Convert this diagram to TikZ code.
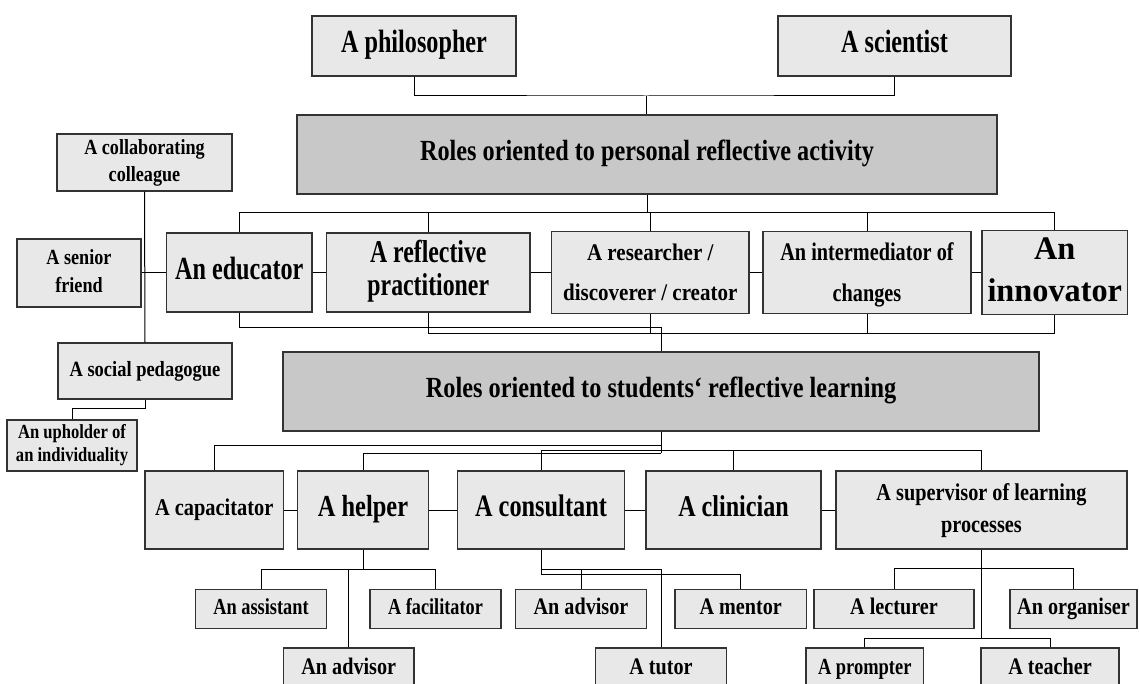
\documentclass[tikz,border=0pt]{standalone}
\usepackage{fontspec}
\setmainfont{Liberation Serif}
\usepackage{graphicx}
\definecolor{lightbox}{HTML}{E8E8E8}
\definecolor{darkbox}{HTML}{C8C8C8}
\definecolor{edgecol}{HTML}{333333}
\newcommand\lbl[4]{\scalebox{#2}[1]{\fontsize{#1}{#3}\selectfont\bfseries\begin{tabular}{@{}c@{}}#4\end{tabular}}}
\newcommand\bx[7]{\node[#2, minimum width={(#5-#3)*0.75pt}, minimum height={(#6-#4)*0.75pt}] (#1) at ({(#3+#5)/2},{(#4+#6)/2}) {#7};}
\begin{document}
\begin{tikzpicture}[x=0.75pt,y=-0.75pt,
  box/.style={draw=edgecol, line width=0.9pt, fill=lightbox, inner sep=0pt, anchor=center},
  dbox/.style={box, fill=darkbox},
  conn/.style={draw=black, line width=0.75pt}]
\useasboundingbox (0,0) rectangle (1139,684);
\clip (0,0) rectangle (1139,684);
\fill[white] (0,0) rectangle (1139,684);
% top
\bx{phil}{box}{312}{16}{516}{76}{\lbl{24.2}{0.75}{26}{A philosopher}}
\bx{sci}{box}{778}{16}{1011}{76}{\lbl{24.2}{0.75}{26}{A scientist}}
\bx{roles1}{dbox}{297}{115}{997}{194}{\lbl{21.9}{0.83}{24}{Roles oriented to personal reflective activity}}
% left column
\bx{collab}{box}{57}{134}{232}{191}{\lbl{16.2}{0.84}{20}{A collaborating\\colleague}}
\bx{friend}{box}{17}{239}{141}{307}{\lbl{16.2}{0.84}{21}{A senior\\friend}}
\bx{social}{box}{58}{343}{232}{399}{\lbl{16.3}{0.85}{20}{A social pedagogue}}
\bx{uphold}{box}{7}{420}{137}{471}{\lbl{15}{0.83}{17.5}{An upholder of\\an individuality}}
% row 2
\bx{edu}{box}{166.5}{233}{312}{312}{\lbl{24.2}{0.75}{26}{An educator}}
\bx{refl}{box}{326.5}{233}{530}{312}{\lbl{23.8}{0.75}{24.5}{A reflective\\practitioner}}
\bx{res}{box}{551.5}{233}{749}{312}{\lbl{17.9}{0.88}{30.5}{A researcher /\\discoverer / creator}}
\bx{inter}{box}{763}{233}{971}{312}{\lbl{19}{0.8}{31}{An intermediator of\\changes}}
\bx{innov}{box}{982}{233}{1127.5}{312}{\lbl{24.7}{0.98}{31.5}{An\\innovator}}
% roles 2
\bx{roles2}{dbox}{283}{352}{1039}{431}{\lbl{21.9}{0.833}{24}{Roles oriented to students‘ reflective learning}}
% row 3
\bx{capa}{box}{145}{471}{283.5}{549}{\lbl{18}{0.85}{20}{A capacitator}}
\bx{helper}{box}{297.5}{471}{428.5}{549}{\lbl{22.9}{0.8}{25}{A helper}}
\bx{consult}{box}{457.5}{471}{624.5}{549}{\lbl{23.4}{0.78}{25}{A consultant}}
\bx{clin}{box}{646}{471}{821}{549}{\lbl{22.6}{0.8}{25}{A clinician}}
\bx{super}{box}{836}{471}{1127}{549}{\lbl{18.1}{0.84}{23.8}{A supervisor of learning\\processes}}
% row 4
\bx{assist}{box}{195.5}{589.5}{326.5}{628.5}{\lbl{17.2}{0.8}{19}{An assistant}}
\bx{facil}{box}{370}{589.5}{501}{628.5}{\lbl{17.1}{0.8}{19}{A facilitator}}
\bx{advc}{box}{515.5}{589.5}{646.5}{628.5}{\lbl{17.8}{0.85}{19}{An advisor}}
\bx{mentor}{box}{675}{589.5}{806.5}{628.5}{\lbl{17.8}{0.85}{19}{A mentor}}
\bx{lect}{box}{814}{589.5}{974}{628.5}{\lbl{17.8}{0.85}{19}{A lecturer}}
\bx{org}{box}{1010}{589.5}{1137}{628.5}{\lbl{17.8}{0.85}{19}{An organiser}}
% row 5
\bx{advh}{box}{283.5}{648}{414}{690}{\lbl{17.8}{0.85}{19}{An advisor}}
\bx{tutor}{box}{595.5}{648}{726.5}{690}{\lbl{17.8}{0.85}{19}{A tutor}}
\bx{prompt}{box}{806}{648}{923.5}{690}{\lbl{17.3}{0.8}{19}{A prompter}}
\bx{teacher}{box}{981}{648}{1119}{690}{\lbl{17.8}{0.85}{19}{A teacher}}
% helper coordinates
\coordinate (j1) at (646,96);
\coordinate (b1) at (0,212.7);
\coordinate (b2) at (0,408);
\coordinate (bA) at (0,327.7);
\coordinate (bB) at (0,333.3);
\coordinate (c1) at (0,445.7);
\coordinate (c2) at (0,450);
\coordinate (c3) at (0,453.3);
\coordinate (d1) at (0,569.5);
\coordinate (e1) at (0,569);
\coordinate (e2) at (0,574);
\coordinate (f1) at (0,568.7);
\coordinate (f2) at (0,638.3);
% top connectors
\draw[conn] (phil.south) |- (j1) -| (sci.south);
\draw[conn] (j1) -- (j1 |- roles1.north);
\draw[conn] (roles1.south) -- (roles1.south |- b1);
\draw[conn] (edu.north) |- (innov.north |- b1) -- (innov.north);
\foreach \n in {refl,res,inter} \draw[conn] (\n.north) -- (\n.north |- b1);
% row 2 links
\draw[conn] (edu.east) -- (refl.west);
\draw[conn] (refl.east) -- (res.west);
\draw[conn] (res.east) -- (inter.west);
\draw[conn] (inter.east) -- (innov.west);
% left column
\draw[conn] (collab.south) -- (social.north);
\draw[conn] (friend.east) -- (friend.east -| edu.west);
\draw[conn] (social.south) |- (uphold.north |- b2) -- (uphold.north);
% into roles 2
\draw[conn] (edu.south) |- (roles2.north |- bA) -- (roles2.north);
\draw[conn] (refl.south) |- (innov.south |- bB) -- (innov.south);
\draw[conn] (res.south) -- (res.south |- bB);
\draw[conn] (inter.south) -- (inter.south |- bB);
% below roles 2
\draw[conn] (roles2.south) -- (roles2.south |- c3);
\draw[conn] (capa.north) |- (roles2.south |- c1);
\draw[conn] (helper.north) |- (roles2.south |- c3);
\draw[conn] (consult.north) |- (super.north |- c2) -- (super.north);
\draw[conn] (clin.north) -- (clin.north |- c2);
% row 3 links
\draw[conn] (capa.east) -- (helper.west);
\draw[conn] (helper.east) -- (consult.west);
\draw[conn] (consult.east) -- (clin.west);
\draw[conn] (clin.east) -- (super.west);
% helper children
\draw[conn] (helper.south) -- (helper.south |- d1);
\draw[conn] (assist.north) |- (facil.north |- d1) -- (facil.north);
\draw[conn] (advh.north) |- (helper.south |- d1);
% consultant children
\draw[conn] (consult.south) |- (mentor.north |- e2) -- (mentor.north);
\draw[conn] (consult.south |- e1) -- (tutor.north |- e1) -- (tutor.north);
\draw[conn] (advc.north) -- (advc.north |- e1);
% supervisor children
\draw[conn] (super.south) -- (super.south |- f2);
\draw[conn] (lect.north) |- (org.north |- f1) -- (org.north);
\draw[conn] (prompt.north) |- (teacher.north |- f2) -- (teacher.north);
\end{tikzpicture}
\end{document}
